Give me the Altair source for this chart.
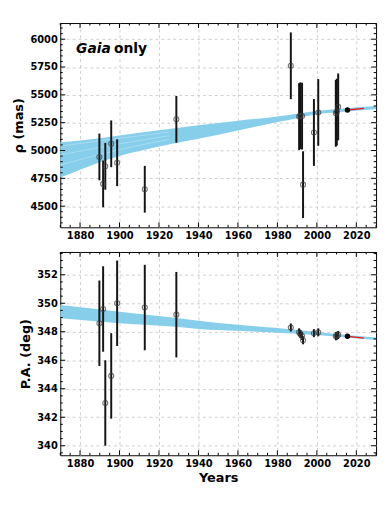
import altair as alt
import pandas as pd

# ---------------- data ----------------
hist_years   = [1889.8, 1891.7, 1892.8, 1895.8, 1898.8, 1912.8, 1928.8]
hist_rho     = [4942, 4700, 4858, 5060, 4890, 4652, 5280]
hist_rho_err = [210, 210, 210, 210, 210, 210, 210]
hist_pa      = [348.6, 349.6, 343.0, 344.9, 350.0, 349.7, 349.2]
hist_pa_err  = [3.0, 3.0, 3.0, 3.0, 3.0, 3.0, 3.0]

mod_years    = [1986.8, 1991.0, 1991.6, 1992.5, 1993.0, 1998.5, 2000.7, 2009.6, 2010.1, 2010.8]
mod_rho      = [5761, 5305, 5312, 5309, 4693, 5162, 5342, 5334, 5345, 5392]
mod_rho_err  = [300, 300, 300, 300, 300, 300, 300, 300, 300, 300]
mod_pa       = [348.3, 347.96, 347.85, 347.7, 347.4, 347.9, 347.96, 347.68, 347.72, 347.78]
mod_pa_err   = [0.28, 0.28, 0.28, 0.28, 0.28, 0.28, 0.28, 0.28, 0.28, 0.28]

gaia_year = [2015.5]
gaia_rho  = [5364]
gaia_pa   = [347.68]

pred_years = [2015.5, 2023.8]
pred_rho   = [5364, 5378]
pred_pa    = [347.68, 347.55]

# orbit-prediction band (edges)
band_rho_years = [1870, 1880, 1900, 1920, 1940, 1960, 1980, 1990, 2000, 2015, 2030]
band_rho_hi    = [5074, 5090, 5135, 5182, 5226, 5268, 5305, 5331, 5355, 5380, 5400]
band_rho_lo    = [4757, 4828, 4950, 5036, 5106, 5180, 5255, 5290, 5325, 5350, 5372]

band_pa_years = [1870, 1900, 1930, 1940, 1960, 1980, 2000, 2015, 2030]
band_pa_hi    = [349.87, 349.41, 348.95, 348.77, 348.49, 348.26, 347.98, 347.78, 347.60]
band_pa_lo    = [348.95, 348.60, 348.33, 348.20, 348.07, 347.93, 347.78, 347.60, 347.42]

# light gaps between the individual orbit curves (top panel)
gap_years = [1870, 1900, 1925]
gap_a = [5040, 5110, 5165]
gap_b = [4960, 5060, 5132]
gap_c = [4870, 5008, 5100]

annot_words = ["Gaia", "only"]
annot_x = [1878, 1897.2]
annot_rho = [5912, 5912]

# axes / ticks
x_major = [1880, 1900, 1920, 1940, 1960, 1980, 2000, 2020]
x_minor = [v for v in range(1870, 2031, 5) if v % 20 != 0]
rho_major = [4500, 4750, 5000, 5250, 5500, 5750, 6000]
rho_minor = [v for v in range(4350, 6101, 50) if v % 250 != 0]
pa_major = [340, 342, 344, 346, 348, 350, 352]
pa_minor = [v / 2 for v in range(679, 708) if v % 4 != 0]

X_DOMAIN = [1870, 2030]
RHO_DOMAIN = [4310, 6145]
PA_DOMAIN = [339.33, 353.6]

W = 320
H_TOP = 207
H_BOT = 206

# ---------------- tables ----------------
obs = pd.DataFrame({
    "year": hist_years + mod_years,
    "rho": hist_rho + mod_rho,
    "rho_err": hist_rho_err + mod_rho_err,
    "pa": hist_pa + mod_pa,
    "pa_err": hist_pa_err + mod_pa_err,
})
obs["rho_lo"] = obs["rho"] - obs["rho_err"]
obs["rho_hi"] = obs["rho"] + obs["rho_err"]
obs["pa_lo"] = obs["pa"] - obs["pa_err"]
obs["pa_hi"] = obs["pa"] + obs["pa_err"]

gaia = pd.DataFrame({"year": gaia_year, "rho": gaia_rho, "pa": gaia_pa})
pred = pd.DataFrame({"year": pred_years, "rho": pred_rho, "pa": pred_pa})
band_rho = pd.DataFrame({"year": band_rho_years, "lo": band_rho_lo, "hi": band_rho_hi})
band_pa = pd.DataFrame({"year": band_pa_years, "lo": band_pa_lo, "hi": band_pa_hi})
gaps = pd.concat([
    pd.DataFrame({"year": gap_years, "rho": g, "curve": name})
    for g, name in [(gap_a, "a"), (gap_b, "b"), (gap_c, "c")]
])

xs = alt.Scale(domain=X_DOMAIN, nice=False, zero=False)


def make_panel(field, band, yscale, y_major, y_minor, ytitle, xtitle, h, extra_fn=None):
    if xtitle:
        xaxis = alt.Axis(values=x_major, format="d", grid=True, title=xtitle)
    else:
        xaxis = alt.Axis(values=x_major, format="d", grid=True, title=None)
    yaxis = alt.Axis(values=y_major, format="d", grid=True, title=ytitle)

    def X(f):
        return alt.X(f, scale=xs, axis=xaxis)

    def Y(f):
        return alt.Y(f, scale=yscale, axis=yaxis)

    layers = [
        alt.Chart(band).mark_area(color="#87ceeb", interpolate="monotone").encode(
            x=X("year:Q"), y=Y("lo:Q"), y2="hi:Q")
    ]
    if extra_fn is not None:
        layers += extra_fn(X, Y)
    layers.append(alt.Chart(obs).mark_rule(color="#141414", strokeWidth=2).encode(
        x=X("year:Q"), y=Y(f"{field}_lo:Q"), y2=f"{field}_hi:Q"))
    layers.append(alt.Chart(obs).mark_point(shape="circle", filled=False, size=26,
                                            color="#3a3a3a", strokeWidth=1.1).encode(
        x=X("year:Q"), y=Y(f"{field}:Q")))
    layers.append(alt.Chart(pred).mark_line(color="#e8141e", strokeWidth=1.4).encode(
        x=X("year:Q"), y=Y(f"{field}:Q")))
    layers.append(alt.Chart(gaia).mark_point(shape="circle", filled=True, size=30,
                                             color="black", opacity=1).encode(
        x=X("year:Q"), y=Y(f"{field}:Q")))
    # inside ticks on all four sides
    for vals, ln in [(x_major, 5), (x_minor, 2.5)]:
        base = alt.Chart(pd.DataFrame({"year": vals})).mark_rule(color="black", strokeWidth=1)
        layers.append(base.encode(x=X("year:Q"), y=alt.value(h), y2=alt.value(h - ln)))
        layers.append(base.encode(x=X("year:Q"), y=alt.value(0), y2=alt.value(ln)))
    for vals, ln in [(y_major, 5), (y_minor, 2.5)]:
        base = alt.Chart(pd.DataFrame({"lo": vals})).mark_rule(color="black", strokeWidth=1)
        layers.append(base.encode(y=Y("lo:Q"), x=alt.value(0), x2=alt.value(ln)))
        layers.append(base.encode(y=Y("lo:Q"), x=alt.value(W), x2=alt.value(W - ln)))
    return alt.layer(*layers).properties(width=W, height=h)


rho_scale = alt.Scale(domain=RHO_DOMAIN, nice=False, zero=False)
pa_scale = alt.Scale(domain=PA_DOMAIN, nice=False, zero=False)


def top_extra(X, Y):
    gap_layer = alt.Chart(gaps).mark_line(color="white", strokeWidth=0.8, opacity=0.35,
                                          interpolate="monotone").encode(
        x=X("year:Q"), y=Y("rho:Q"), detail="curve:N")
    a1 = alt.Chart(pd.DataFrame({"year": [annot_x[0]], "rho": [annot_rho[0]],
                                 "w": [annot_words[0]]})).mark_text(
        align="left", baseline="middle", font="DejaVu Sans", fontSize=14,
        fontWeight="bold", fontStyle="italic", color="black").encode(
        x=X("year:Q"), y=Y("rho:Q"), text="w:N")
    a2 = alt.Chart(pd.DataFrame({"year": [annot_x[1]], "rho": [annot_rho[1]],
                                 "w": [annot_words[1]]})).mark_text(
        align="left", baseline="middle", font="DejaVu Sans", fontSize=14,
        fontWeight="bold", color="black").encode(
        x=X("year:Q"), y=Y("rho:Q"), text="w:N")
    return [gap_layer, a1, a2]


top = make_panel("rho", band_rho, rho_scale, rho_major, rho_minor, "ρ (mas)", None, H_TOP,
                 extra_fn=top_extra)
bottom = make_panel("pa", band_pa, pa_scale, pa_major, pa_minor, "P.A. (deg)", "Years", H_BOT)

chart = alt.vconcat(top, bottom, spacing=10).properties(
    padding={"left": 4, "top": 11, "right": 5, "bottom": 5}
).configure_view(
    stroke="black", strokeWidth=1
).configure_axis(
    labelFont="DejaVu Sans", labelFontWeight="bold", labelFontSize=10, labelColor="black",
    titleFont="DejaVu Sans", titleFontWeight="bold", titleFontSize=13, titleColor="black",
    ticks=False, domain=False, grid=True, gridDash=[3, 3], gridColor="#c4c4c4",
    gridWidth=0.8, labelPadding=3, titlePadding=4,
)

chart.save("out.html", embed_options={"renderer": "svg", "actions": False})
